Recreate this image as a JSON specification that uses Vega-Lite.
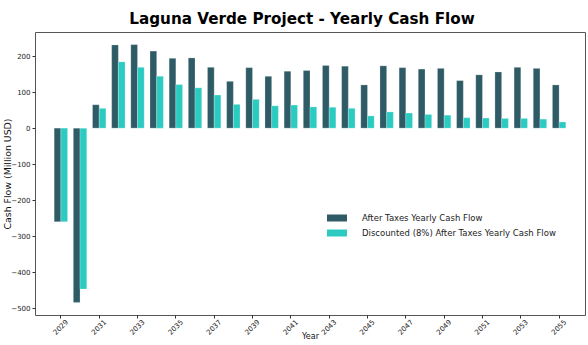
{
  "$schema": "https://vega.github.io/schema/vega-lite/v6.json",
  "width": 550,
  "height": 283,
  "autosize": "none",
  "padding": {"left": 35, "top": 32, "right": 3, "bottom": 30},
  "background": "#ffffff",
  "config": {
    "font": "DejaVu Sans",
    "view": {"stroke": "#555555", "strokeWidth": 1}
  },
  "title": {
    "text": "Laguna Verde Project - Yearly Cash Flow",
    "fontSize": 15.2,
    "fontWeight": "bold",
    "color": "#000000",
    "anchor": "middle",
    "dx": -8,
    "offset": 5
  },
  "data": {
    "values": [
      {"year": 2029, "series": "After Taxes Yearly Cash Flow", "value": -260},
      {"year": 2029, "series": "Discounted (8%) After Taxes Yearly Cash Flow", "value": -260},
      {"year": 2030, "series": "After Taxes Yearly Cash Flow", "value": -484},
      {"year": 2030, "series": "Discounted (8%) After Taxes Yearly Cash Flow", "value": -447},
      {"year": 2031, "series": "After Taxes Yearly Cash Flow", "value": 65},
      {"year": 2031, "series": "Discounted (8%) After Taxes Yearly Cash Flow", "value": 55},
      {"year": 2032, "series": "After Taxes Yearly Cash Flow", "value": 231},
      {"year": 2032, "series": "Discounted (8%) After Taxes Yearly Cash Flow", "value": 184},
      {"year": 2033, "series": "After Taxes Yearly Cash Flow", "value": 232},
      {"year": 2033, "series": "Discounted (8%) After Taxes Yearly Cash Flow", "value": 169},
      {"year": 2034, "series": "After Taxes Yearly Cash Flow", "value": 214},
      {"year": 2034, "series": "Discounted (8%) After Taxes Yearly Cash Flow", "value": 144},
      {"year": 2035, "series": "After Taxes Yearly Cash Flow", "value": 194},
      {"year": 2035, "series": "Discounted (8%) After Taxes Yearly Cash Flow", "value": 121},
      {"year": 2036, "series": "After Taxes Yearly Cash Flow", "value": 195},
      {"year": 2036, "series": "Discounted (8%) After Taxes Yearly Cash Flow", "value": 112},
      {"year": 2037, "series": "After Taxes Yearly Cash Flow", "value": 169},
      {"year": 2037, "series": "Discounted (8%) After Taxes Yearly Cash Flow", "value": 92},
      {"year": 2038, "series": "After Taxes Yearly Cash Flow", "value": 130},
      {"year": 2038, "series": "Discounted (8%) After Taxes Yearly Cash Flow", "value": 66},
      {"year": 2039, "series": "After Taxes Yearly Cash Flow", "value": 168},
      {"year": 2039, "series": "Discounted (8%) After Taxes Yearly Cash Flow", "value": 80},
      {"year": 2040, "series": "After Taxes Yearly Cash Flow", "value": 144},
      {"year": 2040, "series": "Discounted (8%) After Taxes Yearly Cash Flow", "value": 62},
      {"year": 2041, "series": "After Taxes Yearly Cash Flow", "value": 158},
      {"year": 2041, "series": "Discounted (8%) After Taxes Yearly Cash Flow", "value": 64},
      {"year": 2042, "series": "After Taxes Yearly Cash Flow", "value": 160},
      {"year": 2042, "series": "Discounted (8%) After Taxes Yearly Cash Flow", "value": 59},
      {"year": 2043, "series": "After Taxes Yearly Cash Flow", "value": 174},
      {"year": 2043, "series": "Discounted (8%) After Taxes Yearly Cash Flow", "value": 58},
      {"year": 2044, "series": "After Taxes Yearly Cash Flow", "value": 172},
      {"year": 2044, "series": "Discounted (8%) After Taxes Yearly Cash Flow", "value": 55},
      {"year": 2045, "series": "After Taxes Yearly Cash Flow", "value": 120},
      {"year": 2045, "series": "Discounted (8%) After Taxes Yearly Cash Flow", "value": 34},
      {"year": 2046, "series": "After Taxes Yearly Cash Flow", "value": 173},
      {"year": 2046, "series": "Discounted (8%) After Taxes Yearly Cash Flow", "value": 45},
      {"year": 2047, "series": "After Taxes Yearly Cash Flow", "value": 168},
      {"year": 2047, "series": "Discounted (8%) After Taxes Yearly Cash Flow", "value": 42},
      {"year": 2048, "series": "After Taxes Yearly Cash Flow", "value": 164},
      {"year": 2048, "series": "Discounted (8%) After Taxes Yearly Cash Flow", "value": 38},
      {"year": 2049, "series": "After Taxes Yearly Cash Flow", "value": 166},
      {"year": 2049, "series": "Discounted (8%) After Taxes Yearly Cash Flow", "value": 36},
      {"year": 2050, "series": "After Taxes Yearly Cash Flow", "value": 132},
      {"year": 2050, "series": "Discounted (8%) After Taxes Yearly Cash Flow", "value": 29},
      {"year": 2051, "series": "After Taxes Yearly Cash Flow", "value": 148},
      {"year": 2051, "series": "Discounted (8%) After Taxes Yearly Cash Flow", "value": 28},
      {"year": 2052, "series": "After Taxes Yearly Cash Flow", "value": 156},
      {"year": 2052, "series": "Discounted (8%) After Taxes Yearly Cash Flow", "value": 27},
      {"year": 2053, "series": "After Taxes Yearly Cash Flow", "value": 169},
      {"year": 2053, "series": "Discounted (8%) After Taxes Yearly Cash Flow", "value": 27},
      {"year": 2054, "series": "After Taxes Yearly Cash Flow", "value": 166},
      {"year": 2054, "series": "Discounted (8%) After Taxes Yearly Cash Flow", "value": 25},
      {"year": 2055, "series": "After Taxes Yearly Cash Flow", "value": 120},
      {"year": 2055, "series": "Discounted (8%) After Taxes Yearly Cash Flow", "value": 17}
    ]
  },
  "mark": {"type": "bar", "stroke": "#ffffff", "strokeWidth": 0.4, "strokeOpacity": 0.6},
  "encoding": {
    "x": {
      "field": "year",
      "type": "ordinal",
      "scale": {"paddingInner": 0.3, "paddingOuter": 1.35},
      "axis": {
        "values": [2029, 2031, 2033, 2035, 2037, 2039, 2041, 2043, 2045, 2047, 2049, 2051, 2053, 2055],
        "labelAngle": -45,
        "labelAlign": "center",
        "labelBaseline": "middle",
        "labelFontSize": 7,
        "labelColor": "#222222",
        "labelPadding": 9,
        "tickSize": 3,
        "tickColor": "#333333",
        "domain": false,
        "title": "Year",
        "titleFontSize": 8,
        "titleFontWeight": "normal",
        "titleColor": "#111111",
        "titlePadding": -3
      }
    },
    "xOffset": {
      "field": "series",
      "type": "nominal",
      "sort": ["After Taxes Yearly Cash Flow", "Discounted (8%) After Taxes Yearly Cash Flow"],
      "scale": {"paddingInner": 0, "paddingOuter": 0}
    },
    "y": {
      "field": "value",
      "type": "quantitative",
      "scale": {"domain": [-519, 267], "nice": false, "zero": false},
      "axis": {
        "values": [-500, -400, -300, -200, -100, 0, 100, 200],
        "grid": false,
        "domain": false,
        "labelFontSize": 7,
        "labelColor": "#222222",
        "tickSize": 3,
        "tickColor": "#333333",
        "labelPadding": 2,
        "title": "Cash Flow (Million USD)",
        "titleFontSize": 9.4,
        "titleFontWeight": "normal",
        "titleColor": "#111111",
        "titleX": -28,
        "titleBaseline": "middle"
      }
    },
    "color": {
      "field": "series",
      "type": "nominal",
      "sort": ["After Taxes Yearly Cash Flow", "Discounted (8%) After Taxes Yearly Cash Flow"],
      "scale": {"range": ["#2e5b66", "#2bcbc2"]},
      "legend": {
        "title": null,
        "orient": "none",
        "legendX": 292,
        "legendY": 176,
        "symbolType": "M-1,-0.35L1,-0.35L1,0.35L-1,0.35Z",
        "symbolSize": 400,
        "symbolStrokeWidth": 0,
        "labelFontSize": 8.5,
        "labelLimit": 0,
        "labelColor": "#222222",
        "labelOffset": 15,
        "rowPadding": -8
      }
    }
  }
}
